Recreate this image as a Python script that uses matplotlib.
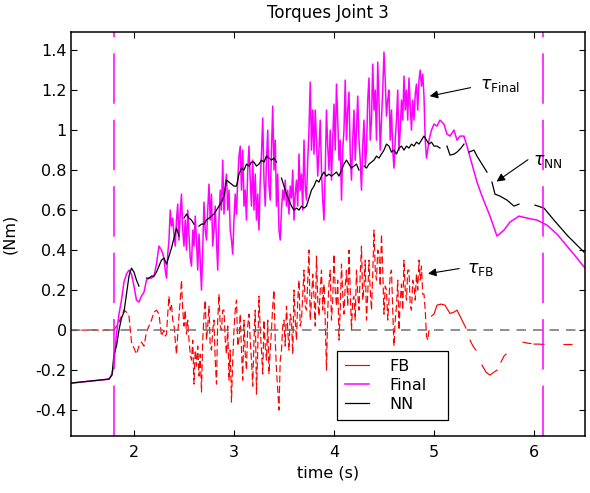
import numpy as np
import matplotlib
matplotlib.use("Agg")
from matplotlib import pyplot as plt

nan = np.nan

# time bases (s)
t_pre = [1.37, 1.5, 1.65, 1.75, 1.78]
t_mid = np.round(1.8 + 0.025 * np.arange(129), 4)      # NN, 1.8 .. 5.0
t_start = np.round(1.8 + 0.025 * np.arange(20), 4)     # 1.8 .. 2.275
t_fine = np.round(2.3 + 0.0125 * np.arange(213), 4)    # 2.3 .. 4.95

# tau Final (magenta)
final_pre = [-0.265, -0.258, -0.25, -0.245, -0.22]
final_start = [-0.17, -0.02, 0.08, 0.15, 0.24, 0.28, 0.30, 0.28, 0.22, 0.15,
               0.14, 0.17, 0.19, 0.25, 0.26, 0.26, 0.27, 0.33, 0.42, 0.40]
final_fine = [
    0.36, 0.30, 0.26, 0.38, 0.45, 0.60, 0.52, 0.56, 0.48, 0.42, 0.55, 0.63, 0.45, 0.58, 0.68, 0.50,
    0.42, 0.55, 0.40, 0.60, 0.48, 0.36, 0.32, 0.50, 0.42, 0.57, 0.45, 0.30, 0.48, 0.35, 0.20, 0.40,
    0.64, 0.50, 0.45, 0.60, 0.73, 0.55, 0.68, 0.42, 0.50, 0.62, 0.45, 0.30, 0.55, 0.70, 0.60, 0.85,
    0.58, 0.72, 0.78, 0.60, 0.70, 0.50, 0.45, 0.38, 0.55, 0.68, 0.58, 0.75, 0.87, 0.92, 0.70, 0.90,
    0.62, 0.70, 0.55, 0.80, 0.92, 0.75, 0.62, 0.85, 0.60, 0.78, 0.55, 0.68, 0.50, 0.75, 0.88, 1.06,
    0.75, 0.62, 0.85, 1.00, 0.72, 0.65, 0.90, 1.12, 0.80, 0.95, 0.62, 0.78, 0.50, 0.45, 0.60, 0.70,
    0.65, 0.75, 0.62, 0.70, 0.58, 0.72, 0.66, 0.80, 0.55, 0.68, 0.75, 0.62, 0.88, 0.70, 0.78, 0.60,
    0.95, 0.72, 0.65, 0.85, 1.00, 1.24, 0.90, 1.10, 0.88, 1.10, 0.95, 0.77, 0.90, 1.05, 0.80, 0.65,
    0.55, 0.80, 1.10, 0.92, 0.80, 1.00, 0.75, 0.95, 1.13, 0.90, 1.23, 1.05, 0.85, 0.95, 0.65, 0.90,
    1.00, 1.25, 0.95, 1.10, 1.19, 0.88, 0.75, 0.95, 1.10, 0.85, 1.00, 1.17, 0.95, 0.85, 0.70, 0.92,
    1.05, 0.82, 0.90, 1.15, 1.26, 0.95, 1.05, 1.33, 1.10, 1.20, 0.95, 1.34, 1.15, 0.90, 1.05, 1.20,
    1.39, 1.25, 1.07, 1.15, 1.20, 0.95, 1.10, 0.90, 0.81, 0.95, 1.05, 1.20, 0.90, 1.00, 1.15, 1.05,
    1.27, 1.10, 1.20, 1.05, 1.26, 1.12, 1.00, 1.15, 1.05, 1.18, 1.23, 1.10, 1.25, 1.30, 1.22, 1.28,
    1.17, 0.95, 0.86, 0.90, 0.95]
t_final_post = [4.975, 5.0, 5.03, 5.06, 5.1, 5.13, 5.16, 5.2, 5.23, 5.26, 5.3, 5.33, 5.38,
                5.43, 5.48, 5.56, 5.63, 5.7, 5.76, 5.85, 5.93, 6.03, 6.13, 6.23, 6.33, 6.43, 6.51]
final_post = [1.0, 1.03, 1.02, 1.05, 1.03, 0.98, 0.97, 1.0, 0.95, 0.97, 0.97, 0.92, 0.83,
              0.74, 0.67, 0.57, 0.47, 0.50, 0.54, 0.57, 0.56, 0.55, 0.525, 0.48, 0.42, 0.36, 0.31]

# tau NN (black)
nn_pre = [-0.265, -0.258, -0.25, -0.245, -0.225]
nn_mid = [
    -0.12, -0.08, 0.00, 0.06, 0.09, 0.18, 0.27, 0.31,
    0.29, 0.25, 0.22, nan, nan, 0.26, 0.26, 0.27,
    0.27, 0.29, 0.32, 0.35, 0.36, 0.33, 0.37, 0.41,
    0.46, 0.51, 0.47, nan, 0.56, 0.58, 0.56, 0.55,
    0.53, nan, 0.52, 0.53, 0.53, 0.55, 0.56, 0.57,
    0.58, 0.60, 0.62, 0.64, 0.67, 0.75, 0.74, 0.73,
    0.72, 0.72, 0.78, 0.81, 0.80, 0.83, 0.82, 0.84,
    0.84, 0.82, 0.83, 0.85, 0.84, 0.87, 0.86, 0.85,
    0.86, 0.84, nan, 0.76, 0.72, 0.68, 0.65, 0.62,
    0.60, 0.61, 0.60, 0.62, 0.61, 0.62, 0.66, 0.70,
    0.72, 0.75, 0.74, 0.77, 0.79, 0.77, 0.78, 0.77,
    0.78, 0.79, 0.77, 0.80, 0.83, 0.85, 0.83, 0.81,
    0.82, 0.83, 0.80, nan, 0.82, 0.81, 0.83, 0.84,
    0.85, 0.87, 0.86, 0.88, 0.90, 0.93, 0.92, 0.89,
    0.90, 0.88, 0.91, 0.92, 0.90, 0.92, 0.91, 0.93,
    0.92, 0.94, 0.93, 0.95, 0.97, 0.95, 0.93, 0.94,
    0.92]
t_nn_post = [5.03, 5.06, 5.09, 5.13, 5.16, 5.2, 5.23, 5.27, 5.3, 5.32, 5.35, 5.4, 5.43,
             5.48, 5.53, 5.555, 5.58, 5.61, 5.66, 5.73, 5.8, 5.85, 5.9, 6.01, 6.1, 6.2,
             6.33, 6.42, 6.5]
nn_post = [0.92, 0.91, nan, 0.92, 0.875, 0.88, 0.89, 0.91, 0.93, nan, 0.89, 0.90, 0.87,
           0.83, 0.79, nan, 0.74, 0.68, 0.67, 0.65, 0.62, 0.63, nan, 0.625, 0.61, 0.55,
           0.475, 0.43, 0.39]

# tau FB (red)
fb_pre = [0.0, 0.0, 0.0, 0.0, 0.0]
fb_start = [0.00, 0.02, 0.04, 0.07, 0.10, 0.09, 0.07, -0.06, -0.09, -0.12,
            -0.08, -0.06, -0.08, -0.01, 0.02, 0.05, 0.09, 0.10, 0.08, -0.03]
fb_fine = [
    0.00, -0.03, -0.02, 0.08, 0.17, 0.10, 0.13, 0.05, 0.03, -0.05, -0.12, -0.02, 0.07, 0.15, 0.25, 0.10,
    0.02, 0.10, -0.02, 0.05, -0.05, -0.12, -0.15, -0.05, -0.27, -0.10, -0.18, -0.08, -0.23, -0.12, -0.31, -0.05,
    0.07, 0.15, -0.05, 0.02, 0.12, -0.08, -0.10, 0.00, 0.05, -0.15, -0.27, 0.05, 0.18, 0.02, 0.00, 0.10,
    0.10, -0.05, -0.12, 0.02, -0.25, -0.10, -0.36, -0.15, 0.00, 0.10, 0.15, -0.08, -0.05, 0.08, -0.10, -0.25,
    0.05, -0.12, -0.20, 0.02, 0.08, -0.05, -0.15, -0.28, -0.05, 0.10, -0.32, -0.10, 0.17, 0.00, -0.10, -0.22,
    0.05, -0.08, -0.15, 0.05, -0.22, -0.10, 0.00, 0.12, 0.20, -0.05, -0.20, -0.30, -0.40, -0.15, -0.10, 0.02,
    0.05, -0.08, 0.12, 0.00, -0.10, 0.08, 0.05, -0.12, 0.20, 0.05, -0.05, 0.15, 0.25, 0.02, 0.05, 0.18,
    0.30, 0.12, 0.10, 0.25, 0.40, 0.05, 0.15, 0.28, 0.17, 0.02, 0.37, 0.15, 0.07, 0.20, 0.30, 0.10,
    0.23, 0.05, -0.20, 0.10, 0.23, 0.30, 0.05, 0.15, 0.38, 0.20, 0.12, 0.25, -0.05, 0.10, 0.33, 0.18,
    0.08, 0.22, 0.30, 0.12, 0.40, 0.20, 0.00, 0.15, 0.17, 0.05, 0.30, 0.18, 0.10, 0.28, 0.42, 0.15,
    0.22, 0.35, 0.05, 0.18, 0.35, 0.20, 0.10, 0.28, 0.50, 0.30, 0.25, 0.40, 0.38, 0.22, 0.48, 0.30,
    0.08, 0.22, 0.20, 0.05, 0.15, 0.28, 0.30, 0.10, -0.08, 0.05, 0.12, 0.25, 0.00, 0.15, 0.23, 0.10,
    0.35, 0.20, 0.15, 0.30, 0.30, 0.12, 0.10, 0.25, 0.22, 0.15, 0.28, 0.20, 0.35, 0.25, 0.32, 0.18,
    0.18, 0.10, -0.03, -0.05, 0.00]
t_fb_post = [4.975, 5.0, 5.03, 5.07, 5.11, 5.16, 5.2, 5.23, 5.28, 5.32, 5.34, 5.36, 5.39, 5.42,
             5.45, 5.48, 5.52, 5.56, 5.6, 5.63, 5.65, 5.67, 5.7, 5.72, 5.74, 5.89, 5.93,
             5.97, 5.99, 6.0, 6.05, 6.1, 6.2, 6.3, 6.38]
fb_post = [0.07, 0.08, 0.125, 0.13, 0.125, 0.083, 0.09, 0.10, 0.05, 0.01, nan, -0.05, -0.08, -0.10,
           nan, -0.175, -0.21, -0.225, -0.21, -0.20, nan, -0.16, -0.13, -0.12, nan, -0.06, -0.065,
           -0.067, nan, -0.07, -0.07, -0.072, nan, -0.072, -0.072]

x_ticks = [2, 3, 4, 5, 6]
y_ticks = [-0.4, -0.2, 0, 0.2, 0.4, 0.6, 0.8, 1, 1.2, 1.4]
y_tick_labels = ["-0.4", "-0.2", "0", "0.2", "0.4", "0.6", "0.8", "1", "1.2", "1.4"]
switch_times = [1.8, 6.086]

plt.rcParams["font.family"] = ["DejaVu Sans"]
fs = 11.5

fig = plt.figure(figsize=(5.9, 4.93), dpi=100)
ax = fig.add_axes([0.1203, 0.1162, 0.8712, 0.8183])

t_fin = np.concatenate([t_pre, t_start, t_fine, t_final_post])
y_fin = np.concatenate([final_pre, final_start, final_fine, final_post])
t_nn = np.concatenate([t_pre, t_mid, t_nn_post])
y_nn = np.concatenate([nn_pre, nn_mid, nn_post])
t_fb = np.concatenate([t_pre, t_start, t_fine])
y_fb = np.concatenate([fb_pre, fb_start, fb_fine])

ax.plot(t_fb, y_fb, color="#ff0000", lw=0.85, dashes=(6, 2.8), label="FB")
ax.plot(t_fb_post, fb_post, color="#ff0000", lw=0.85)
ax.plot(t_fin, y_fin, color="#ff00ff", lw=1.1, label="Final")
ax.plot(t_nn, y_nn, color="black", lw=0.9, label="NN")

ax.axhline(0, color="#707070", lw=1.1, dashes=(6.2, 4.6))
for ts in switch_times:
    ax.axvline(ts, color="#ff00ff", lw=1.1, dashes=(33, 10.5))

ax.set_xlim(1.37, 6.51)
ax.set_ylim(-0.528, 1.489)
ax.set_xticks(x_ticks)
ax.set_xticklabels([str(v) for v in x_ticks])
ax.set_yticks(y_ticks)
ax.set_yticklabels(y_tick_labels)
ax.tick_params(direction="in", top=True, right=True, length=4, width=0.8, labelsize=fs)
ax.tick_params(axis="x", pad=7)
ax.tick_params(axis="y", pad=3)
for sp in ax.spines.values():
    sp.set_linewidth(1.1)

ax.set_title("Torques Joint 3", fontsize=12, pad=10)
ax.set_xlabel("time (s)", fontsize=fs)
ax.xaxis.set_label_coords(0.5, -0.073)
ax.set_ylabel("(Nm)", fontsize=fs)
ax.yaxis.set_label_coords(-0.105, 0.5)

# tau annotations
arrow = dict(arrowstyle="-|>", color="black", lw=0.8, mutation_scale=12)
ax.annotate("", xy=(4.93, 1.167), xytext=(5.393, 1.215), arrowprops=arrow)
ax.text(5.46, 1.225, r"$\tau_{\mathrm{Final}}$", fontsize=12.5, va="center", ha="left")
ax.annotate("", xy=(5.603, 0.735), xytext=(5.963, 0.86), arrowprops=arrow)
ax.text(5.99, 0.845, r"$\tau_{\mathrm{NN}}$", fontsize=12.5, va="center", ha="left")
ax.annotate("", xy=(4.913, 0.28), xytext=(5.28, 0.31), arrowprops=arrow)
ax.text(5.33, 0.305, r"$\tau_{\mathrm{FB}}$", fontsize=12.5, va="center", ha="left")

leg = ax.legend(loc="upper left", bbox_to_anchor=(0.517, 0.043, 0.216, 0.167), mode="expand",
                borderaxespad=0, fontsize=fs, fancybox=False, framealpha=1, edgecolor="black",
                handlelength=1.5, handletextpad=1.3, labelspacing=0.25, borderpad=0.5)
leg.get_frame().set_linewidth(0.9)
for line in leg.get_lines():
    line.set_linestyle("-")

fig.savefig("out.png", dpi=100)
